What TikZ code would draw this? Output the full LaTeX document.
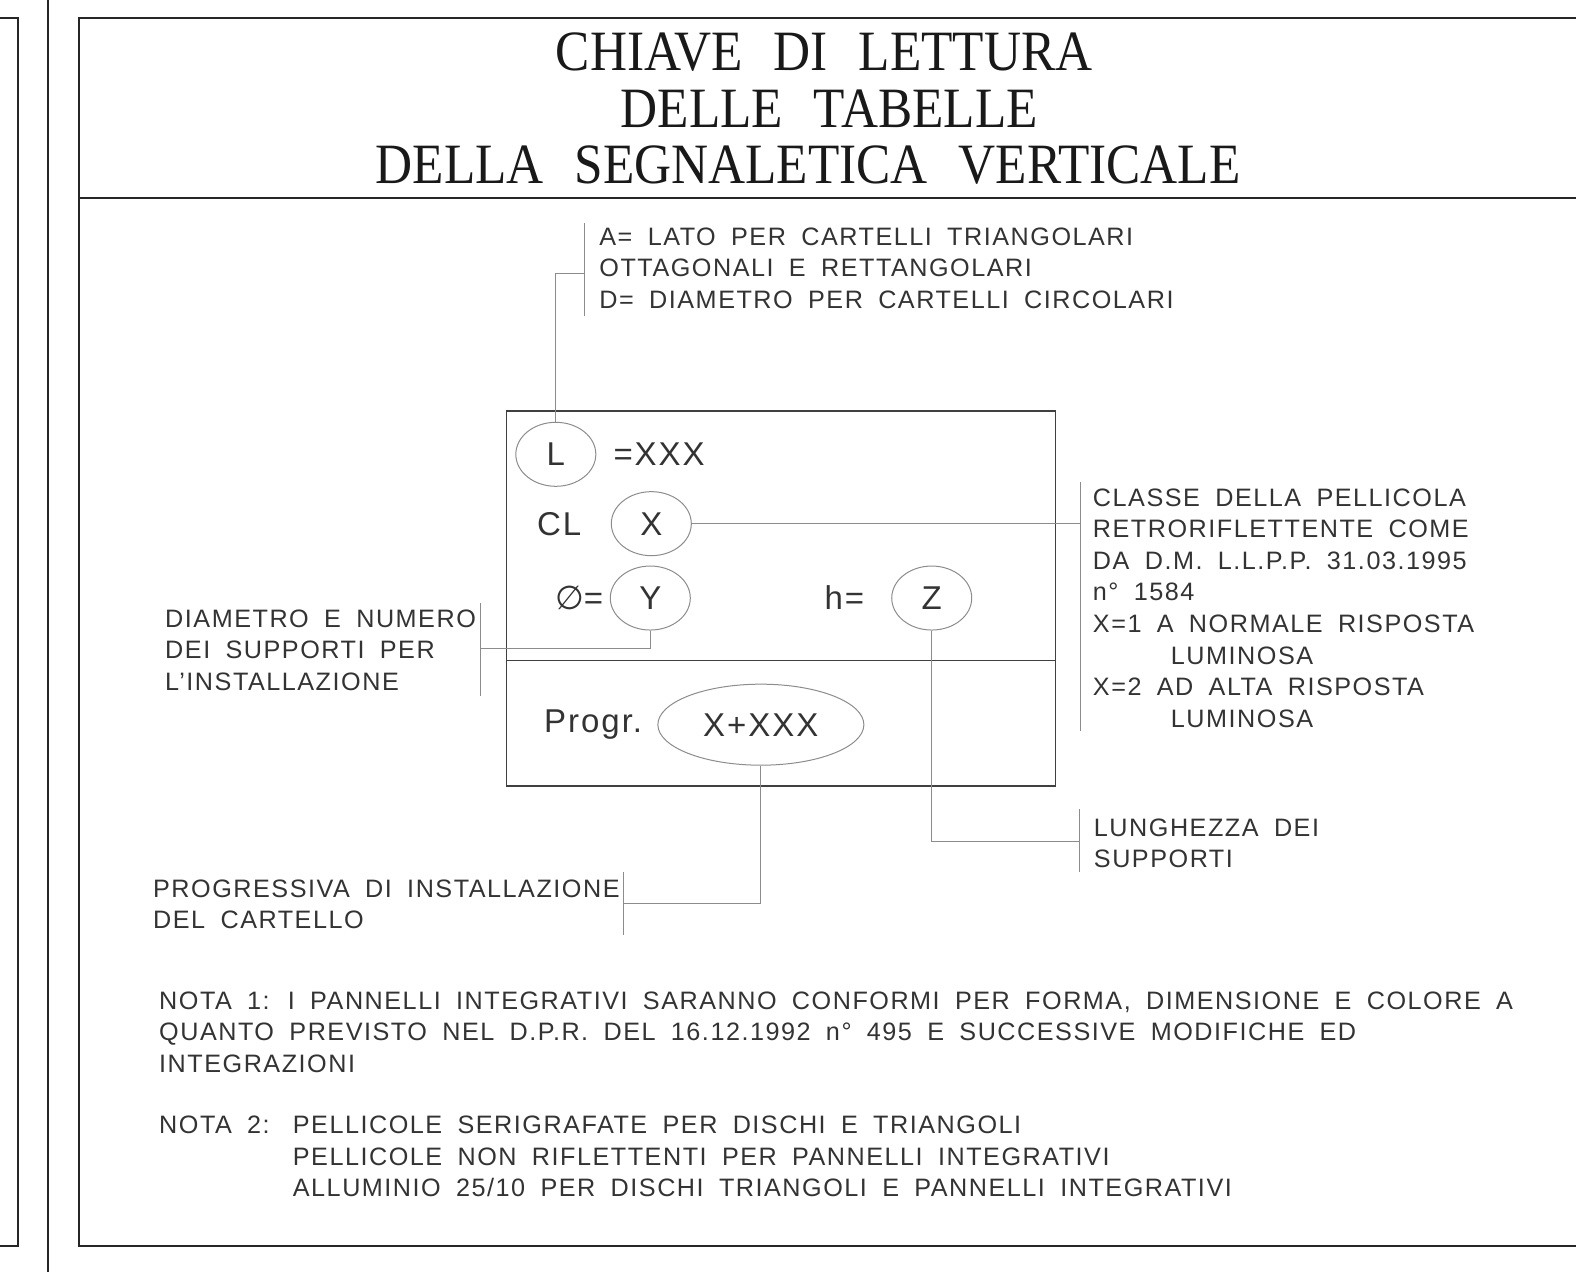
\documentclass[tikz,border=0pt]{standalone}
\usepackage{fontspec}
\setmainfont{Liberation Sans}
\newfontfamily\titlefont[FakeStretch=0.9,WordSpace=2.4]{Liberation Serif}
\newfontfamily\cadfont[LetterSpace=6,WordSpace=1.8]{Liberation Sans}
\newfontfamily\symbfont{DejaVu Sans}
\usetikzlibrary{calc}
\usetikzlibrary{positioning}
\usetikzlibrary{shapes.geometric}

\begin{document}
\begin{tikzpicture}[x=0.5025pt,y=-0.5025pt,
    frame/.style={draw=black!85,line width=1pt},
    boxline/.style={draw=black!75,line width=0.7pt},
    leader/.style={draw=black!45,line width=0.5pt},
    oval/.style={ellipse,draw=black!45,line width=0.5pt,inner sep=0pt,
      minimum width=40pt,minimum height=32pt,text=black!80,
      font=\cadfont\fontsize{16.5}{20}\selectfont},
    txt/.style={inner sep=0pt,anchor=north west,align=left,text=black!80,
      font=\cadfont\fontsize{12.6}{15.75}\selectfont},
    label/.style={inner sep=0pt,anchor=west,text=black!80,
      font=\cadfont\fontsize{16.5}{20}\selectfont},
    heading/.style={inner sep=0pt,text=black!90,
      font=\titlefont\fontsize{28.5}{28.5}\selectfont}]

  \useasboundingbox (0,0) rectangle (1568,1266);

  \draw [frame] (0,18) -- (18,18) -- (18,1240) -- (0,1240);
  \draw [frame] (48,0) -- (48,1266);
  \draw [frame] (1568,18) -- (79,18) -- (79,1240) -- (1568,1240);
  \draw [frame] (79,197) -- (1568,197);

  \node [heading] (title1) at (820,52)  {CHIAVE DI LETTURA};
  \node [heading] (title2) at (825,108) {DELLE TABELLE};
  \node [heading] (title3) at (804,164) {DELLA SEGNALETICA VERTICALE};

  \draw [boxline] (504,409) rectangle (1050,782);
  \draw [boxline] (504,657) -- (1050,657);

  \node [oval] (L) at (553,452) {L};
  \node [label] (eqL) at (610,452) {=XXX};
  \node [label] (CL) at (534,521) {CL};
  \node [oval] (X) at (648,521) {X};
  \node [label] (phi) at (552,595) {{\symbfont ∅}=};
  \node [oval] (Y) at (647,595) {Y};
  \node [label] (heq) at (820,595) {h=};
  \node [oval] (Z) at (927,595) {Z};
  \node [label] (progr) at (541,721) {Progr.};
  \node [oval,minimum width=103pt,minimum height=40.5pt] (P) at (757,721) {X+XXX};

  \node [txt] (noteA) at (596,226) {A= LATO PER CARTELLI TRIANGOLARI\\
    OTTAGONALI E RETTANGOLARI\\D= DIAMETRO PER CARTELLI CIRCOLARI};
  \node [txt] (noteX) at (1087,486) {CLASSE DELLA PELLICOLA\\
    RETRORIFLETTENTE COME\\DA D.M. L.L.P.P. 31.03.1995\\n° 1584\\
    X=1 A NORMALE RISPOSTA\\\hspace*{39pt}LUMINOSA\\
    X=2 AD ALTA RISPOSTA\\\hspace*{39pt}LUMINOSA};
  \node [txt] (noteY) at (164,606) {DIAMETRO E NUMERO\\
    DEI SUPPORTI PER\\L’INSTALLAZIONE};
  \node [txt] (noteZ) at (1088,814) {LUNGHEZZA DEI\\SUPPORTI};
  \node [txt] (noteP) at (152,875) {PROGRESSIVA DI INSTALLAZIONE\\
    DEL CARTELLO};
  \node [txt] (nota1) at (158,986) {NOTA 1: I PANNELLI INTEGRATIVI SARANNO
    CONFORMI PER FORMA, DIMENSIONE E COLORE A\\
    QUANTO PREVISTO NEL D.P.R. DEL 16.12.1992 n° 495 E SUCCESSIVE MODIFICHE ED\\
    INTEGRAZIONI};
  \node [txt] (nota2) at (158,1110) {NOTA 2:};
  \node [txt] (nota2b) at (291,1110) {PELLICOLE SERIGRAFATE PER DISCHI E TRIANGOLI\\
    PELLICOLE NON RIFLETTENTI PER PANNELLI INTEGRATIVI\\
    ALLUMINIO 25/10 PER DISCHI TRIANGOLI E PANNELLI INTEGRATIVI};

  \coordinate (jA) at (582,272);
  \coordinate (jX) at (1075,521);
  \coordinate (jY) at (478,645);
  \coordinate (jZ) at (1074,837);
  \coordinate (jP) at (620,899);

  \path [leader]
    (582,222) edge (582,314)
    (1075,480) edge (1075,727)
    (478,600) edge (478,692)
    (1074,805) edge (1074,868)
    (620,868) edge (620,930);

  \draw [leader] (L.north) |- (jA);
  \draw [leader] (X.east) -- (jX);
  \draw [leader] (Y.south) |- (jY);
  \draw [leader] (Z.south) |- (jZ);
  \draw [leader] (P.south) |- (jP);

\end{tikzpicture}
\end{document}
